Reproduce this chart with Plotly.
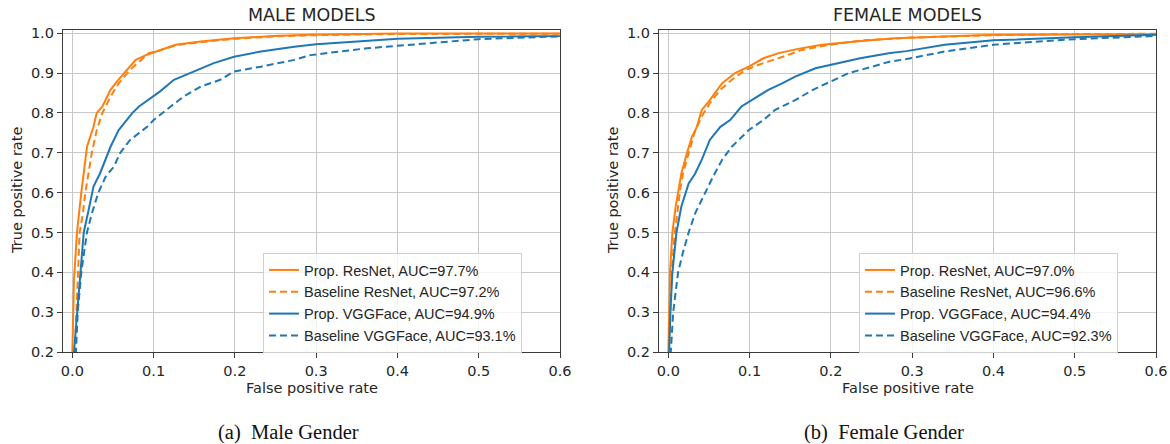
import plotly.graph_objects as go

# ---------------- data ----------------
series_names = ["Prop. ResNet", "Baseline ResNet", "Prop. VGGFace", "Baseline VGGFace"]
male_auc = ["97.7%", "97.2%", "94.9%", "93.1%"]
female_auc = ["97.0%", "96.6%", "94.4%", "92.3%"]

male_prop_resnet_fpr = [0.0, 0.0, 0.002, 0.0057, 0.011, 0.015, 0.018, 0.026, 0.030, 0.037, 0.047, 0.055, 0.067, 0.078, 0.092, 0.104, 0.127, 0.158, 0.199, 0.248, 0.293, 0.40, 0.5, 0.6, 1.0]
male_prop_resnet_tpr = [0.0, 0.2, 0.38, 0.5, 0.6, 0.675, 0.715, 0.765, 0.8, 0.816, 0.858, 0.879, 0.908, 0.933, 0.946, 0.954, 0.971, 0.979, 0.987, 0.993, 0.996, 0.999, 1.0, 1.0, 1.0]

male_base_resnet_fpr = [0.0, 0.003, 0.009, 0.013, 0.016, 0.020, 0.024, 0.030, 0.037, 0.047, 0.057, 0.071, 0.084, 0.094, 0.106, 0.128, 0.16, 0.2, 0.25, 0.3, 0.4, 0.5, 0.6, 1.0]
male_base_resnet_tpr = [0.0, 0.2, 0.5, 0.548, 0.6, 0.648, 0.7, 0.757, 0.8, 0.841, 0.874, 0.908, 0.933, 0.95, 0.956, 0.97, 0.978, 0.986, 0.992, 0.995, 0.998, 0.999, 1.0, 1.0]

male_prop_vgg_fpr = [0.0, 0.002, 0.006, 0.010, 0.014, 0.020, 0.026, 0.034, 0.041, 0.047, 0.057, 0.074, 0.082, 0.096, 0.108, 0.125, 0.145, 0.174, 0.199, 0.232, 0.273, 0.3, 0.355, 0.4, 0.5, 0.6, 1.0]
male_prop_vgg_tpr = [0.0, 0.2, 0.3, 0.4, 0.5, 0.556, 0.615, 0.648, 0.682, 0.715, 0.757, 0.8, 0.816, 0.837, 0.854, 0.883, 0.9, 0.925, 0.941, 0.954, 0.966, 0.972, 0.980, 0.986, 0.991, 0.995, 1.0]

male_base_vgg_fpr = [0.0, 0.004, 0.0066, 0.011, 0.018, 0.024, 0.032, 0.041, 0.051, 0.059, 0.071, 0.092, 0.100, 0.121, 0.137, 0.158, 0.182, 0.199, 0.232, 0.273, 0.293, 0.362, 0.445, 0.5, 0.6, 1.0]
male_base_vgg_tpr = [0.0, 0.2, 0.3, 0.4, 0.5, 0.548, 0.6, 0.64, 0.665, 0.7, 0.732, 0.765, 0.782, 0.816, 0.841, 0.866, 0.883, 0.904, 0.916, 0.933, 0.945, 0.962, 0.975, 0.985, 0.992, 1.0]

female_prop_resnet_fpr = [0.0, 0.0, 0.002, 0.005, 0.009, 0.012, 0.016, 0.023, 0.029, 0.035, 0.041, 0.051, 0.066, 0.082, 0.099, 0.117, 0.136, 0.158, 0.189, 0.230, 0.279, 0.4, 0.5, 0.6, 1.0]
female_prop_resnet_tpr = [0.0, 0.2, 0.4, 0.5, 0.565, 0.6, 0.648, 0.7, 0.74, 0.765, 0.807, 0.832, 0.874, 0.9, 0.916, 0.937, 0.95, 0.96, 0.971, 0.979, 0.987, 0.996, 0.998, 1.0, 1.0]

female_base_resnet_fpr = [0.0, 0.001, 0.004, 0.008, 0.011, 0.014, 0.018, 0.025, 0.032, 0.041, 0.051, 0.064, 0.078, 0.095, 0.117, 0.141, 0.164, 0.199, 0.238, 0.3, 0.4, 0.5, 0.6, 1.0]
female_base_resnet_tpr = [0.0, 0.2, 0.4, 0.5, 0.548, 0.6, 0.648, 0.7, 0.749, 0.791, 0.824, 0.858, 0.883, 0.908, 0.925, 0.941, 0.958, 0.971, 0.982, 0.989, 0.995, 0.998, 1.0, 1.0]

female_prop_vgg_fpr = [0.0, 0.001, 0.0025, 0.005, 0.010, 0.016, 0.025, 0.033, 0.041, 0.051, 0.064, 0.076, 0.090, 0.103, 0.123, 0.140, 0.156, 0.181, 0.211, 0.236, 0.273, 0.293, 0.34, 0.4, 0.5, 0.6, 1.0]
female_prop_vgg_tpr = [0.0, 0.2, 0.3, 0.4, 0.5, 0.565, 0.623, 0.648, 0.682, 0.732, 0.765, 0.782, 0.816, 0.832, 0.858, 0.874, 0.891, 0.912, 0.925, 0.937, 0.95, 0.955, 0.971, 0.982, 0.99, 0.996, 1.0]

female_base_vgg_fpr = [0.0, 0.003, 0.006, 0.012, 0.018, 0.025, 0.033, 0.045, 0.055, 0.066, 0.078, 0.099, 0.117, 0.131, 0.156, 0.178, 0.199, 0.222, 0.251, 0.273, 0.293, 0.34, 0.4, 0.5, 0.6, 1.0]
female_base_vgg_tpr = [0.0, 0.2, 0.3, 0.4, 0.45, 0.5, 0.548, 0.6, 0.64, 0.682, 0.715, 0.757, 0.782, 0.807, 0.832, 0.858, 0.879, 0.9, 0.916, 0.929, 0.935, 0.954, 0.971, 0.985, 0.993, 1.0]

x_ticks = [0.0, 0.1, 0.2, 0.3, 0.4, 0.5, 0.6]
y_ticks = [0.2, 0.3, 0.4, 0.5, 0.6, 0.7, 0.8, 0.9, 1.0]
panel_titles = ["MALE MODELS", "FEMALE MODELS"]
captions = ["(a)  Male Gender", "(b)  Female Gender"]
x_title = "False positive rate"
y_title = "True positive rate"

# ---------------- style ----------------
ORANGE = "#ff7f0e"
BLUE = "#1f77b4"
colors = [ORANGE, ORANGE, BLUE, BLUE]
dashes = ["solid", "7px,4px", "solid", "7px,4px"]
SANS = "DejaVu Sans"
LEGSANS = "Liberation Sans"
SERIF = "Liberation Serif"
TXT = "#262626"

W, H = 1170, 444
def px_x(p): return p / W
def px_y(p): return 1 - p / H

fig = go.Figure()

male = [(male_prop_resnet_fpr, male_prop_resnet_tpr), (male_base_resnet_fpr, male_base_resnet_tpr),
        (male_prop_vgg_fpr, male_prop_vgg_tpr), (male_base_vgg_fpr, male_base_vgg_tpr)]
female = [(female_prop_resnet_fpr, female_prop_resnet_tpr), (female_base_resnet_fpr, female_base_resnet_tpr),
          (female_prop_vgg_fpr, female_prop_vgg_tpr), (female_base_vgg_fpr, female_base_vgg_tpr)]

for i, (fx, ty) in enumerate(male):
    fig.add_trace(go.Scatter(x=fx, y=ty, mode="lines", xaxis="x", yaxis="y", legend="legend",
                             name=f"{series_names[i]}, AUC={male_auc[i]}",
                             line=dict(color=colors[i], width=2, dash=dashes[i])))
for i, (fx, ty) in enumerate(female):
    fig.add_trace(go.Scatter(x=fx, y=ty, mode="lines", xaxis="x2", yaxis="y2", legend="legend2",
                             name=f"{series_names[i]}, AUC={female_auc[i]}",
                             line=dict(color=colors[i], width=2, dash=dashes[i])))

ydom = [px_y(352), px_y(30)]
axis_common = dict(showgrid=True, gridcolor="#c8c8c8", gridwidth=1, showline=True, linecolor="#3a3a3a",
                   linewidth=1.3, mirror=True, ticks="outside", ticklen=5, tickcolor="#3a3a3a",
                   tickfont=dict(family=SANS, size=14.5, color=TXT), zeroline=False, automargin=False)
xcommon = dict(axis_common, range=[-0.0115, 0.6], tickvals=x_ticks, ticktext=[f"{v:.1f}" for v in x_ticks])
ycommon = dict(axis_common, range=[0.2, 1.008], tickvals=y_ticks, ticktext=[f"{v:.1f}" for v in y_ticks])

legend_common = dict(bgcolor="rgba(255,255,255,0.8)", bordercolor="#d0d0d0", borderwidth=1,
                     font=dict(family=LEGSANS, size=14.5, color=TXT), xanchor="left", yanchor="top",
                     tracegroupgap=0, itemwidth=30)

fig.update_layout(
    width=W, height=H, margin=dict(l=0, r=0, t=0, b=0, autoexpand=False),
    paper_bgcolor="white", plot_bgcolor="white", showlegend=True,
    xaxis=dict(xcommon, domain=[px_x(63), px_x(560)], anchor="y"),
    yaxis=dict(ycommon, domain=ydom, anchor="x"),
    xaxis2=dict(xcommon, domain=[px_x(659), px_x(1156)], anchor="y2"),
    yaxis2=dict(ycommon, domain=ydom, anchor="x2"),
    legend=dict(legend_common, x=px_x(263), y=px_y(253)),
    legend2=dict(legend_common, x=px_x(859), y=px_y(253)),
)

for cx, t in zip([311.5, 907.5], panel_titles):
    fig.add_annotation(x=px_x(cx), y=px_y(15), xref="paper", yref="paper", text=t, showarrow=False,
                       font=dict(family=SANS, size=17.5, color=TXT), xanchor="center", yanchor="middle")
for cx in [311.5, 907.5]:
    fig.add_annotation(x=px_x(cx), y=px_y(388), xref="paper", yref="paper", text=x_title, showarrow=False,
                       font=dict(family=SANS, size=14.5, color=TXT), xanchor="center", yanchor="middle")
for cx in [17, 613]:
    fig.add_annotation(x=px_x(cx), y=px_y(191), xref="paper", yref="paper", text=y_title, showarrow=False,
                       textangle=-90, font=dict(family=SANS, size=14.5, color=TXT),
                       xanchor="center", yanchor="middle")
for cx, t in zip([288, 884], captions):
    fig.add_annotation(x=px_x(cx), y=px_y(432), xref="paper", yref="paper", text=t, showarrow=False,
                       font=dict(family=SERIF, size=20.5, color="#111"), xanchor="center", yanchor="middle")

fig.write_html("out.html", config={"displayModeBar": False},
               post_script="document.body.style.margin='0';document.body.style.padding='0';"
                           "document.body.style.overflow='hidden';")
